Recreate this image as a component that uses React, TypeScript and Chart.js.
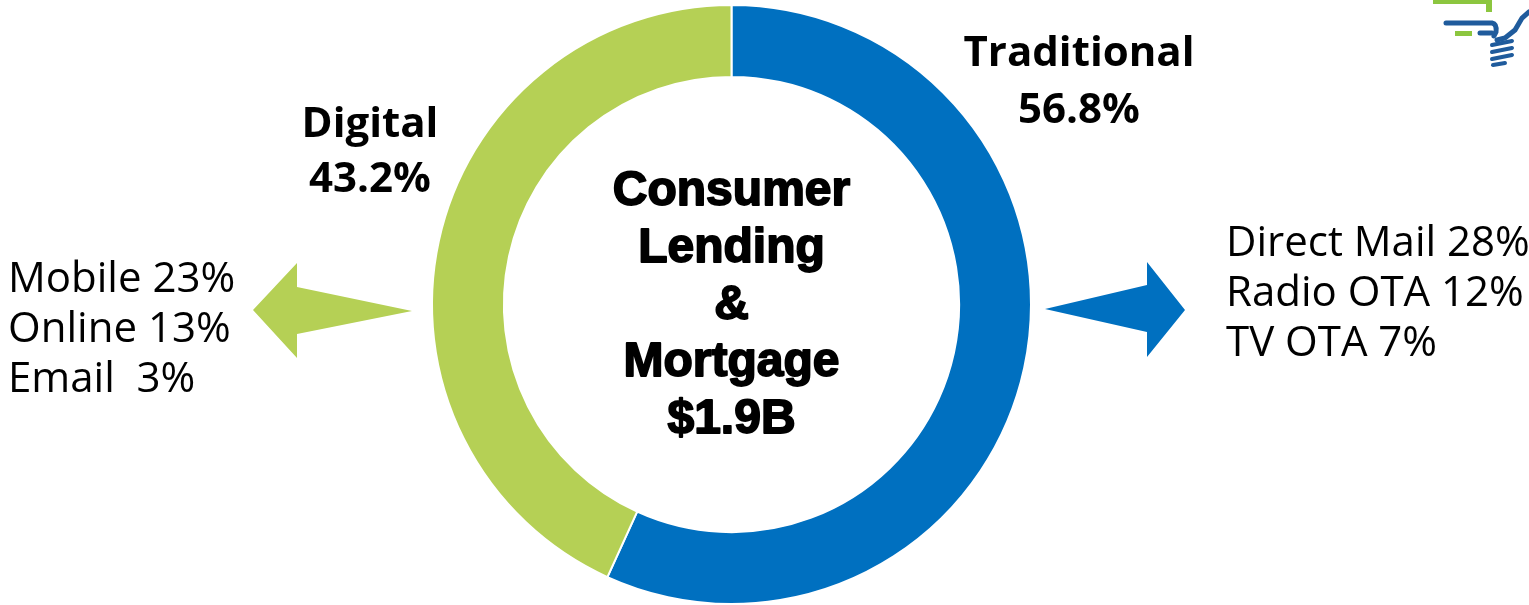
import React, { useEffect, useRef } from "react";
import { Chart, registerables } from "chart.js";

Chart.register(...registerables);

const categories = ["Traditional", "Digital"];
const shares = [56.8, 43.2];
const segmentColors = ["#0070C0", "#B5D055"];
const traditionalChannels = ["Direct Mail 28%", "Radio OTA 12%", "TV OTA 7%"];
const digitalChannels = ["Mobile 23%", "Online 13%", "Email  3%"];
const centerLines = ["Consumer", "Lending", "&", "Mortgage", "$1.9B"];

const overlayPlugin = {
  id: "overlay",
  afterDraw(chart: any) {
    const ctx = chart.ctx as CanvasRenderingContext2D;
    const arc = chart.getDatasetMeta(0).data[0];
    const cx = arc.x;
    const cy = arc.y;
    ctx.save();

    // Left arrow (digital)
    ctx.fillStyle = segmentColors[1];
    ctx.beginPath();
    ctx.moveTo(412, 311);
    ctx.lineTo(297, 287);
    ctx.lineTo(297, 263);
    ctx.lineTo(253, 310);
    ctx.lineTo(297, 358);
    ctx.lineTo(297, 334);
    ctx.closePath();
    ctx.fill();

    // Right arrow (traditional)
    ctx.fillStyle = segmentColors[0];
    ctx.beginPath();
    ctx.moveTo(1045, 309);
    ctx.lineTo(1147, 285);
    ctx.lineTo(1147, 262);
    ctx.lineTo(1185, 310);
    ctx.lineTo(1147, 357);
    ctx.lineTo(1147, 332);
    ctx.closePath();
    ctx.fill();

    // Logo fragment (top-right)
    ctx.fillStyle = "#8CC63F";
    ctx.fillRect(1433, 0, 58, 4);
    ctx.fillRect(1486, 0, 6, 12);
    ctx.fillRect(1455, 31, 17, 5);
    ctx.fillStyle = "#1F5B9C";
    ctx.strokeStyle = "#1F5B9C";
    ctx.lineCap = "round";
    ctx.lineWidth = 5;
    ctx.beginPath();
    ctx.moveTo(1446, 23);
    ctx.lineTo(1492, 23);
    ctx.quadraticCurveTo(1497, 24, 1496, 32);
    ctx.lineTo(1494, 36);
    ctx.stroke();
    ctx.beginPath();
    ctx.moveTo(1480, 33);
    ctx.lineTo(1492, 33);
    ctx.stroke();
    ctx.beginPath();
    ctx.moveTo(1497, 40);
    ctx.lineTo(1505, 38);
    ctx.lineTo(1515, 30);
    ctx.lineTo(1522, 18);
    ctx.lineTo(1529, 12);
    ctx.stroke();
    ctx.lineWidth = 4;
    for (let i = 0; i < 3; i++) {
      ctx.beginPath();
      ctx.moveTo(1492, 45 + i * 7);
      ctx.lineTo(1512, 41 + i * 7);
      ctx.stroke();
    }
    ctx.beginPath();
    ctx.moveTo(1493, 65);
    ctx.lineTo(1505, 63);
    ctx.stroke();

    // Segment labels
    ctx.fillStyle = "#000";
    ctx.textAlign = "center";
    ctx.textBaseline = "alphabetic";
    ctx.font = 'bold 42px "Open Sans", "Noto Sans", sans-serif';
    ctx.fillText(categories[0], 1079, 66);
    ctx.fillText(`${shares[0]}%`, 1079, 123);
    ctx.fillText(categories[1], 370, 137);
    ctx.fillText(`${shares[1]}%`, 370, 192);

    // Channel lists
    ctx.font = '42px "Open Sans", "Noto Sans", sans-serif';
    ctx.textAlign = "left";
    digitalChannels.forEach((t, i) => ctx.fillText(t, 8, 292 + i * 50));
    traditionalChannels.forEach((t, i) => ctx.fillText(t, 1226, 256 + i * 50));

    // Center text
    ctx.textAlign = "center";
    ctx.font = 'bold 48px "Liberation Sans", Arial, sans-serif';
    ctx.lineWidth = 1.8;
    ctx.strokeStyle = "#000";
    ctx.lineJoin = "round";
    centerLines.forEach((t, i) => {
      const y = cy - 100 + i * 57;
      ctx.fillText(t, cx, y);
      ctx.strokeText(t, cx, y);
    });

    ctx.restore();
  },
};

export default function App() {
  const canvasRef = useRef<HTMLCanvasElement | null>(null);

  useEffect(() => {
    if (!canvasRef.current) return;
    const chart = new Chart(canvasRef.current, {
      type: "doughnut",
      data: {
        labels: categories,
        datasets: [
          {
            data: shares,
            backgroundColor: segmentColors,
            borderColor: "#ffffff",
            borderWidth: 2,
            hoverOffset: 0,
          },
        ],
      },
      options: {
        animation: false,
        responsive: false,
        maintainAspectRatio: false,
        cutout: "76%",
        layout: { padding: { top: 4, bottom: 0, left: 0, right: 66 } },
        plugins: {
          legend: { display: false },
          tooltip: { enabled: false },
        },
        events: [],
      },
      plugins: [overlayPlugin],
    });
    return () => chart.destroy();
  }, []);

  return (
    <div
      style={{
        position: "fixed",
        left: 0,
        top: 0,
        width: 1529,
        height: 605,
        background: "#ffffff",
      }}
    >
      <canvas ref={canvasRef} width={1529} height={605} style={{ width: 1529, height: 605, display: "block" }} />
    </div>
  );
}
